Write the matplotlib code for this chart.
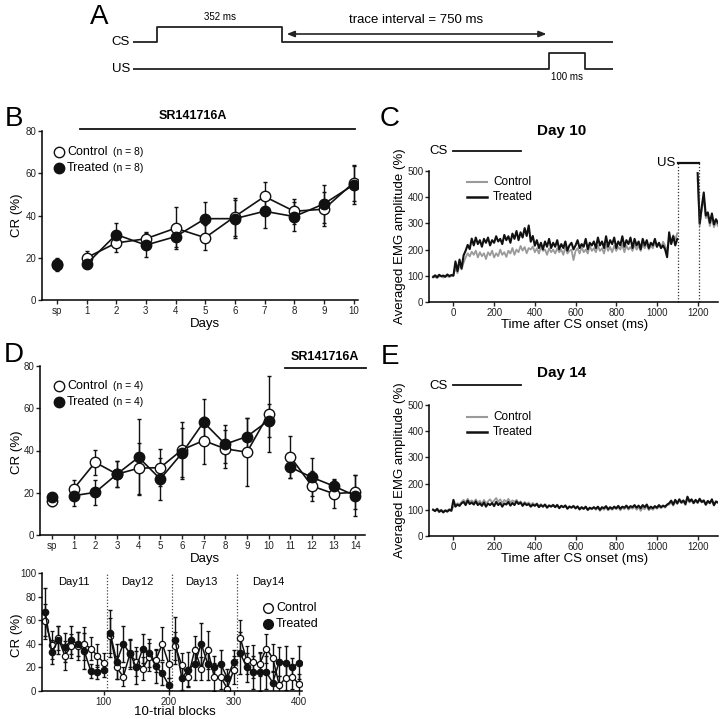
import numpy as np
import matplotlib
matplotlib.use('Agg')
import matplotlib.pyplot as plt

plt.rcParams['font.family'] = ['Liberation Sans', 'DejaVu Sans']

W, H = 720, 719

# ---- panel A timing (ms)
cs_dur = 352
trace_int = 750
us_dur = 100

# ---- panel B (days, CR %)
days_b = ['sp', '1', '2', '3', '4', '5', '6', '7', '8', '9', '10']
ctrl_b = [17, 20, 27, 29, 34, 29.5, 39.5, 49, 42, 43, 55.5]
ctrl_b_err = [3, 3, 4.5, 3, 10, 6, 9, 7, 6, 8, 8.5]
trt_b = [16.5, 17, 31, 26, 30, 38.5, 38.5, 42, 39.5, 45.5, 54.5]
trt_b_err = [3, 1.5, 5.5, 5.5, 5, 8, 9, 8, 7, 9, 9]

# ---- panel D (days, CR %)
days_d = ['sp', '1', '2', '3', '4', '5', '6', '7', '8', '9', '10', '11', '12', '13', '14']
ctrl_d = [16, 21.8, 34.4, 28.8, 31.6, 31.9, 40.3, 44.7, 40.8, 39.2, 57.2, 37.1, 23.2, 19.6, 20.2]
ctrl_d_err = [2.5, 4, 6, 6, 12, 8.7, 13, 11, 9, 16, 18, 10, 7, 7, 8]
trt_d = [18.2, 18.6, 20.2, 28.8, 36.8, 26.5, 38.7, 53.4, 43, 46.6, 54.2, 32.1, 27.3, 23.2, 18.6]
trt_d_err = [1.5, 4.7, 6, 6, 18, 10, 12, 11, 9, 8.7, 8, 5, 9, 3, 9.6]

# ---- panel D bottom (10-trial blocks)
blocks = np.arange(10, 410, 10)
ctrl_blk = [59, 39, 45, 30, 38, 38, 40, 36, 30, 24,
            47, 20, 12, 31, 25, 19, 29, 26, 40, 23,
            38, 22, 12, 35, 19, 35, 12, 12, 2, 18,
            45, 26, 25, 23, 36, 28, 5, 11, 12, 6]
ctrl_blk_err = [15, 12, 10, 12, 10, 12, 14, 10, 10, 8,
                15, 10, 8, 12, 12, 10, 12, 10, 14, 12,
                12, 10, 8, 12, 10, 16, 12, 10, 8, 12,
                15, 12, 14, 10, 12, 12, 8, 10, 10, 8]
trt_blk = [67, 33, 43, 37, 43, 40, 34, 17, 16, 18,
           49, 25, 40, 32, 20, 36, 32, 21, 15, 5,
           43, 11, 18, 23, 40, 23, 20, 23, 11, 25,
           32, 20, 16, 16, 16, 7, 25, 24, 20, 24]
trt_blk_err = [20, 10, 12, 12, 12, 10, 15, 6, 6, 6,
               20, 15, 15, 12, 14, 12, 12, 14, 10, 6,
               20, 10, 15, 14, 18, 14, 10, 12, 8, 10,
               18, 12, 14, 16, 14, 10, 12, 14, 8, 14]
day_lbl = ['Day11', 'Day12', 'Day13', 'Day14']
day_lbl_x = [54, 152, 250, 353]
day_bounds = [105, 205, 305]

# ---- EMG traces (every 10 ms, -100..1300)
t_ms = np.arange(-100, 1310, 10)
nan = np.nan
emg10_trt = [95, 102, 93, 104, 98, 101, 96, 105, 99, 103,
             100, 155, 118, 162, 128, 178, 196, 218, 202, 242,
             216, 246, 221, 236, 211, 241, 226, 246, 216, 236,
             226, 251, 231, 241, 221, 256, 236, 251, 226, 261,
             241, 271, 236, 266, 246, 282, 252, 292, 230, 252,
             215, 236, 206, 226, 201, 231, 211, 241, 206, 226,
             211, 236, 201, 221, 206, 231, 196, 216, 226, 201,
             216, 236, 206, 221, 211, 241, 201, 226, 216, 231,
             206, 246, 216, 231, 206, 251, 211, 236, 221, 246,
             206, 231, 216, 251, 211, 236, 221, 246, 206, 241,
             216, 231, 201, 241, 216, 236, 206, 226, 216, 241,
             211, 226, 206, 216, 201, 171, 266, 221, 251, 216,
             241, nan, nan, nan, nan, nan, nan, nan, nan, nan,
             492, 300, 362, 418, 330, 342, 302, 338, 296, 316, 302]
emg10_ctrl = [98, 94, 101, 97, 100, 93, 101, 98, 95, 100,
              104, 128, 110, 142, 124, 150, 170, 186, 174, 192,
              180, 196, 170, 190, 175, 186, 164, 190, 178, 196,
              170, 186, 175, 200, 180, 190, 172, 196, 185, 206,
              180, 200, 190, 214, 196, 210, 186, 206, 200, 212,
              190, 205, 185, 210, 195, 200, 180, 205, 190, 200,
              185, 205, 190, 200, 180, 210, 185, 195, 200, 160,
              195, 205, 185, 210, 190, 200, 185, 215, 195, 205,
              190, 215, 195, 205, 185, 220, 195, 210, 190, 215,
              195, 210, 200, 220, 190, 215, 200, 210, 195, 220,
              200, 215, 195, 220, 205, 225, 200, 215, 205, 230,
              210, 225, 205, 230, 215, 195, 240, 225, 255, 240,
              262, nan, nan, nan, nan, nan, nan, nan, nan, nan,
              470, 290, 350, 400, 320, 330, 290, 325, 285, 305, 290]
emg14_trt = [100, 95, 103, 92, 98, 90, 97, 93, 100, 96,
             138, 112, 120, 115, 125, 130, 118, 135, 122, 128,
             120, 132, 118, 125, 115, 128, 112, 124, 118, 126,
             114, 130, 118, 126, 112, 124, 120, 130, 116, 126,
             118, 132, 122, 128, 115, 125, 118, 122, 112, 120,
             115, 122, 110, 118, 112, 120, 108, 116, 112, 118,
             110, 118, 106, 115, 110, 116, 104, 112, 108, 114,
             106, 113, 102, 110, 104, 112, 100, 108, 104, 110,
             104, 112, 100, 110, 106, 114, 102, 110, 104, 112,
             106, 115, 104, 112, 108, 116, 106, 114, 110, 118,
             108, 116, 106, 118, 110, 120, 104, 112, 106, 114,
             108, 118, 110, 116, 112, 120, 125, 135, 120, 138,
             125, 140, 128, 136, 122, 150, 132, 140, 126, 138,
             128, 142, 130, 136, 120, 134, 126, 140, 118, 132, 128]
emg14_ctrl = [102, 98, 105, 96, 100, 94, 99, 97, 103, 98,
              112, 118, 125, 120, 130, 138, 128, 142, 130, 136,
              128, 140, 126, 135, 122, 138, 125, 132, 140, 128,
              135, 145, 130, 140, 125, 138, 130, 142, 128, 136,
              130, 138, 125, 132, 120, 130, 122, 128, 118, 126,
              118, 125, 115, 122, 112, 120, 110, 118, 114, 120,
              112, 120, 108, 116, 110, 118, 106, 114, 110, 116,
              104, 112, 100, 108, 102, 110, 98, 106, 102, 108,
              100, 108, 96, 106, 100, 110, 98, 106, 100, 108,
              102, 110, 98, 108, 102, 112, 100, 108, 104, 112,
              100, 110, 96, 108, 102, 114, 98, 106, 100, 110,
              104, 112, 106, 114, 108, 118, 120, 128, 116, 132,
              122, 136, 125, 132, 118, 142, 128, 136, 124, 134,
              125, 138, 128, 132, 118, 130, 124, 136, 116, 130, 126]
us_on, us_off = 1105, 1205

GREY = '#9a9a9a'


def rect(l, t, r, b):
    return [l / W, 1 - b / H, (r - l) / W, (b - t) / H]


def style(ax):
    for s in ['top', 'right']:
        ax.spines[s].set_visible(False)
    for s in ['left', 'bottom']:
        ax.spines[s].set_linewidth(1.1)
    ax.tick_params(direction='out', length=3, width=1, labelsize=7, pad=1, colors='#222')


fig = plt.figure(figsize=(W / 100, H / 100), dpi=100)

# ================= A
axA = fig.add_axes(rect(133, 10, 613, 85))
axA.set_xlim(-67, 1281)
axA.set_ylim(85, 10)
axA.axis('off')
us_start = cs_dur + trace_int
axA.plot([-67, 0, 0, cs_dur, cs_dur, 1281], [42, 42, 27, 27, 42, 42], color='#222', lw=1.3)
axA.plot([-67, us_start, us_start, us_start + us_dur, us_start + us_dur, 1281],
         [69, 69, 53, 53, 69, 69], color='#222', lw=1.3)
axA.annotate('', xy=(cs_dur + 5, 34), xytext=(us_start, 34),
             arrowprops=dict(arrowstyle='<|-|>,head_length=0.45,head_width=0.18', color='#222', lw=1.2))
axA.text(cs_dur / 2, 17, '%d ms' % cs_dur, ha='center', va='center', fontsize=7)
axA.text(cs_dur + trace_int / 2, 20, 'trace interval = %d ms' % trace_int, ha='center', va='center', fontsize=9.5)
axA.text(us_start + us_dur / 2, 77, '%d ms' % us_dur, ha='center', va='center', fontsize=7)

# ================= B
axB = fig.add_axes(rect(42, 131, 358, 300))
style(axB)
xb = np.arange(len(days_b))
kw_c = dict(fmt='o-', color='#111', mfc='white', mec='#111', ms=7.5, lw=1.2, elinewidth=1, capsize=1.5, mew=1)
kw_t = dict(fmt='o-', color='#111', mfc='#111', mec='#111', ms=7.5, lw=1.2, elinewidth=1, capsize=1.5)
axB.errorbar(xb[:1], ctrl_b[:1], yerr=ctrl_b_err[:1], **kw_c)
axB.errorbar(xb[1:], ctrl_b[1:], yerr=ctrl_b_err[1:], **kw_c)
axB.errorbar(xb[:1], trt_b[:1], yerr=trt_b_err[:1], **kw_t)
axB.errorbar(xb[1:], trt_b[1:], yerr=trt_b_err[1:], **kw_t)
axB.set_xlim(-0.5, 10.15)
axB.set_ylim(0, 80)
axB.set_yticks([0, 20, 40, 60, 80])
axB.set_xticks(xb)
axB.set_xticklabels(days_b)

# ================= D
axD = fig.add_axes(rect(40, 366, 365, 535))
style(axD)
xd = np.arange(len(days_d))
axD.errorbar(xd[:1], ctrl_d[:1], yerr=ctrl_d_err[:1], **kw_c)
axD.errorbar(xd[1:11], ctrl_d[1:11], yerr=ctrl_d_err[1:11], **kw_c)
axD.errorbar(xd[11:], ctrl_d[11:], yerr=ctrl_d_err[11:], **kw_c)
axD.errorbar(xd[:1], trt_d[:1], yerr=trt_d_err[:1], **kw_t)
axD.errorbar(xd[1:11], trt_d[1:11], yerr=trt_d_err[1:11], **kw_t)
axD.errorbar(xd[11:], trt_d[11:], yerr=trt_d_err[11:], **kw_t)
axD.set_xlim(-0.55, 14.45)
axD.set_ylim(0, 80)
axD.set_yticks([0, 20, 40, 60, 80])
axD.set_xticks(xd)
axD.set_xticklabels(days_d)

# ================= D bottom
axL = fig.add_axes(rect(42, 573, 302, 691))
style(axL)
kw_cs = dict(fmt='o-', color='#111', mfc='white', mec='#111', ms=4.5, lw=1.1, elinewidth=1, capsize=1.2, mew=0.9)
kw_ts = dict(fmt='o-', color='#111', mfc='#111', mec='#111', ms=4.5, lw=1.1, elinewidth=1, capsize=1.2)
for i in range(4):
    sl = slice(i * 10, i * 10 + 10)
    axL.errorbar(blocks[sl], ctrl_blk[sl], yerr=ctrl_blk_err[sl], **kw_cs)
    axL.errorbar(blocks[sl], trt_blk[sl], yerr=trt_blk_err[sl], **kw_ts)
for xb_ in day_bounds:
    axL.axvline(xb_, color='#444', lw=0.9, ls=(0, (1, 1.5)))
for lb, xx in zip(day_lbl, day_lbl_x):
    axL.text(xx, 92, lb, ha='center', va='center', fontsize=8)
axL.set_xlim(5, 405)
axL.set_ylim(0, 100)
axL.set_yticks([0, 20, 40, 60, 80, 100])
axL.set_xticks([100, 200, 300, 400])

# ================= C / E
for (top, bot, trt, ctrl) in [(171, 302, emg10_trt, emg10_ctrl), (405, 536, emg14_trt, emg14_ctrl)]:
    ax = fig.add_axes(rect(429, top, 718, bot))
    style(ax)
    ax.plot(t_ms, ctrl, color=GREY, lw=1.3)
    ax.plot(t_ms, trt, color='#111', lw=1.5)
    ax.set_xlim(-120, 1300)
    ax.set_ylim(0, 500)
    ax.set_yticks([0, 100, 200, 300, 400, 500])
    ax.set_xticks([0, 200, 400, 600, 800, 1000, 1200])
    ax.plot([0, cs_dur - 20], [576, 576], color='#111', lw=1.3, clip_on=False)
    if top == 171:
        ax.plot([us_on, us_off], [530, 530], color='#111', lw=1.6, clip_on=False)
        for xv in [us_on, us_off]:
            ax.plot([xv, xv], [0, 530], color='#333', lw=0.9, ls=(0, (1, 1.5)), clip_on=False)

# ================= overlay text
ov = fig.add_axes([0, 0, 1, 1])
ov.set_xlim(0, W)
ov.set_ylim(H, 0)
ov.axis('off')
ov.patch.set_visible(False)

for lt, x, y in [('A', 99, 17), ('B', 14, 119), ('C', 390, 119), ('D', 14, 355), ('E', 390, 357)]:
    ov.text(x, y, lt, fontsize=20, ha='center', va='center')
ov.text(130, 42, 'CS', ha='right', va='center', fontsize=9.5)
ov.text(130, 69, 'US', ha='right', va='center', fontsize=9.5)

# B / D decorations
ov.text(193, 116, 'SR141716A', ha='center', va='center', fontsize=9, fontweight='bold')
ov.plot([80, 355], [129, 129], color='#111', lw=1.3)
ov.text(325, 357, 'SR141716A', ha='center', va='center', fontsize=9, fontweight='bold')
ov.plot([285, 366], [368, 368], color='#111', lw=1.3)
for y0, n in [(152, 8), (386, 4)]:
    ov.plot([59], [y0], 'o', mfc='white', mec='#111', ms=7.5, mew=1)
    ov.plot([59], [y0 + 16], 'o', mfc='#111', mec='#111', ms=7.5)
    ov.text(67, y0, 'Control', va='center', fontsize=9)
    ov.text(67, y0 + 16, 'Treated', va='center', fontsize=9)
    ov.text(113, y0, '(n = %d)' % n, va='center', fontsize=7.5)
    ov.text(113, y0 + 16, '(n = %d)' % n, va='center', fontsize=7.5)
ov.plot([268], [608], 'o', mfc='white', mec='#111', ms=7, mew=1)
ov.plot([268], [624], 'o', mfc='#111', mec='#111', ms=7)
ov.text(276, 608, 'Control', va='center', fontsize=9)
ov.text(276, 624, 'Treated', va='center', fontsize=9)

ov.text(17, 215, 'CR (%)', rotation=90, ha='center', va='center', fontsize=9.5)
ov.text(205, 324, 'Days', ha='center', va='center', fontsize=9.5)
ov.text(17, 452, 'CR (%)', rotation=90, ha='center', va='center', fontsize=9.5)
ov.text(205, 559, 'Days', ha='center', va='center', fontsize=9.5)
ov.text(17, 635, 'CR (%)', rotation=90, ha='center', va='center', fontsize=9.5)
ov.text(175, 712, '10-trial blocks', ha='center', va='center', fontsize=9.5)

# C / E decorations
for yt, ttl, ycs, yleg, ylab, yx in [(131, 'Day 10', 151, 182, 236, 325), (373, 'Day 14', 386, 417, 470, 559)]:
    ov.text(562, yt, ttl, ha='center', va='center', fontsize=11, fontweight='bold')
    ov.text(448, ycs, 'CS', ha='right', va='center', fontsize=9.5)
    ov.plot([467, 487], [yleg, yleg], color=GREY, lw=1.5)
    ov.plot([467, 487], [yleg + 15, yleg + 15], color='#111', lw=1.8)
    ov.text(493, yleg, 'Control', va='center', fontsize=8.5)
    ov.text(493, yleg + 15, 'Treated', va='center', fontsize=8.5)
    ov.text(400, ylab, 'Averaged EMG amplitude (%)', rotation=90, ha='center', va='center', fontsize=9.5)
    ov.text(575, yx, 'Time after CS onset (ms)', ha='center', va='center', fontsize=9.5)
ov.text(675, 163, 'US', ha='right', va='center', fontsize=9.5)

fig.savefig('out.png', dpi=100)
